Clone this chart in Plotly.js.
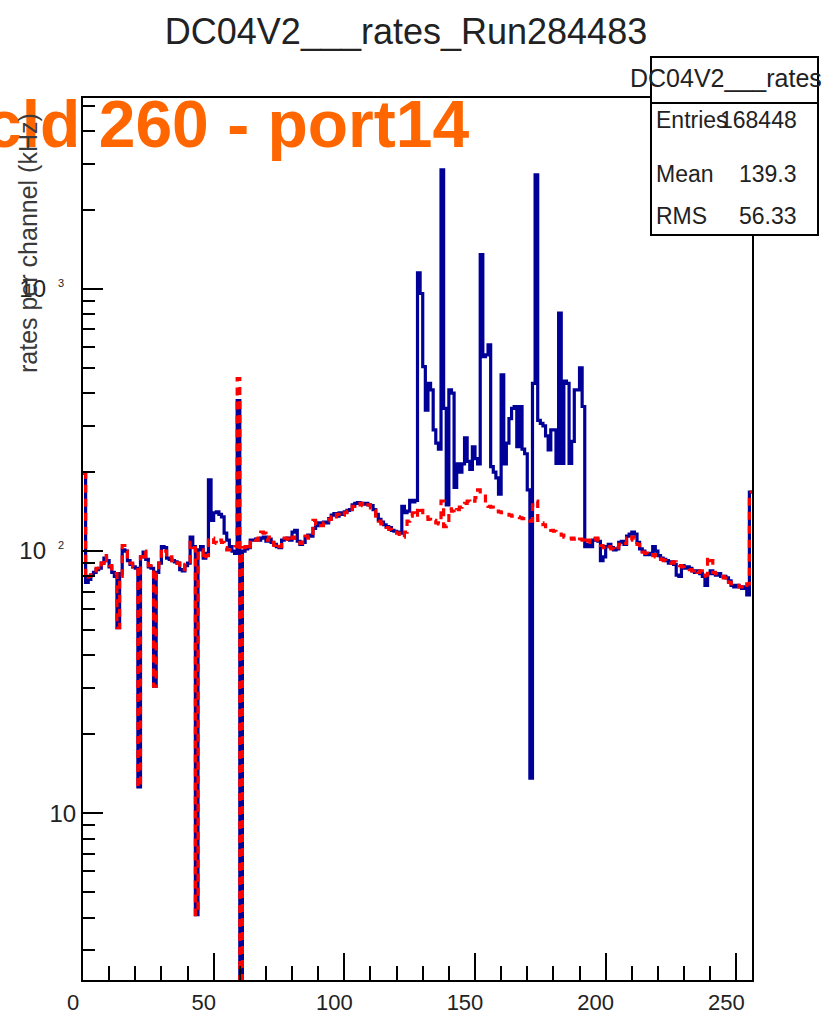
<!DOCTYPE html>
<html><head><meta charset="utf-8">
<script src="https://cdn.plot.ly/plotly-3.0.1.min.js"></script>
<style>html,body{margin:0;padding:0;background:#fff}#chart{width:828px;height:1016px}</style>
</head><body><div id="chart"></div>
<script>
// ---- data (rates per channel, kHz), one value per channel bin 0..255 ----
const ratesBlue = [
 198, 76, 78, 81, 83, 85, 86, 90, 94, 92,
 87, 83, 80, 51, 82, 101, 100, 92, 89, 87,
 86, 12.6, 95, 99, 93, 87, 86, 30.5, 83, 90,
 104, 103, 94, 93, 92, 91, 90, 85, 84, 88,
 90, 113, 104, 4.1, 101, 104, 94, 98, 187, 131,
 140, 141, 138, 135, 117, 110, 104, 100, 98, 375,
 0, 100, 102, 103, 110, 110, 111, 110, 112, 113,
 109, 111, 108, 106, 104, 103, 110, 111, 112, 110,
 118, 120, 109, 106, 108, 113, 115, 114, 122, 125,
 128, 127, 129, 128, 133, 137, 139, 136, 140, 138,
 141, 143, 144, 150, 152, 153, 152, 151, 152, 150,
 149, 144, 138, 132, 129, 126, 124, 123, 120, 119,
 118, 117, 148, 140, 142, 156, 154, 156, 1150, 960,
 505, 345, 436, 412, 290, 258, 245, 2845, 350, 150,
 412, 400, 175, 215, 200, 215, 270, 220, 205, 250,
 225, 215, 1350, 552, 560, 612, 210, 200, 190, 165,
 470, 215, 258, 320, 350, 356, 250, 356, 245, 235,
 171, 13.6, 436, 2723, 315, 307, 300, 275, 243, 290,
 290, 216, 808, 216, 445, 436, 216, 262, 412, 412,
 500, 356, 104, 106, 104, 110, 111, 109, 92, 95,
 104, 106, 103, 101, 102, 108, 109, 106, 114, 116,
 118, 116, 108, 102, 100, 97, 98, 97, 104, 100,
 96, 94, 93, 92, 90, 91, 89, 81, 80, 88,
 86, 87, 86, 84, 83, 84, 82, 80, 74, 82,
 84, 82, 81, 82, 80, 80, 79, 77, 74, 73,
 74, 73, 72, 73, 68, 168
];
const ratesRed = [
 198, 78, 80, 83, 84, 86, 85, 90, 96, 92,
 88, 84, 82, 51, 80, 105, 100, 91, 90, 87,
 87, 12.6, 95, 100, 92, 88, 86, 30.5, 84, 90,
 102, 100, 94, 95, 92, 93, 90, 86, 85, 89,
 91, 108, 103, 4.1, 100, 101, 93, 96, 110, 112,
 108, 107, 110, 108, 103, 101, 101, 103, 104, 455,
 0, 103, 104, 101, 108, 111, 110, 112, 118, 117,
 110, 113, 108, 105, 107, 104, 110, 112, 111, 109,
 113, 110, 108, 107, 110, 114, 112, 115, 131, 126,
 127, 125, 128, 130, 132, 135, 133, 138, 136, 137,
 140, 142, 141, 148, 151, 150, 152, 149, 148, 150,
 146, 143, 136, 130, 127, 125, 123, 121, 120, 118,
 117, 114, 113, 118, 130, 136, 140, 135, 147, 143,
 140, 135, 132, 130, 131, 128, 127, 155, 124, 125,
 145, 142, 140, 144, 147, 150, 152, 155, 153, 155,
 160, 171, 168, 165, 150, 148, 147, 143, 142, 141,
 140, 139, 138, 137, 136, 135, 135, 134, 133, 133,
 131, 130, 150, 155, 131, 128, 126, 124, 122, 120,
 119, 117, 116, 115, 113, 113, 112, 111, 112, 110,
 111, 110, 107, 110, 108, 111, 112, 110, 105, 103,
 105, 104, 102, 101, 103, 106, 108, 107, 112, 110,
 113, 112, 106, 101, 99, 98, 97, 96, 97, 95,
 94, 93, 92, 91, 91, 90, 91, 89, 88, 87,
 86, 86, 85, 84, 85, 83, 84, 80, 81, 95,
 92, 83, 82, 81, 80, 79, 80, 76, 75, 74,
 74, 73, 73, 72, 75, 168
];
const xTickVals = [0, 50, 100, 150, 200, 250];
const yTickVals = [10, 100, 1000];
const yTickText = ["10", "10\u2002<sup><span style='font-size:11px'>2</span></sup>\u2002", "10\u2002<sup><span style='font-size:11px'>3</span></sup>\u2002"];
const yMinorVals = [3,4,5,6,7,8,9,20,30,40,50,60,70,80,90,200,300,400,500,600,700,800,900,2000,3000,4000,5000];
const chartTitle = "DC04V2___rates_Run284483";
const yTitle = "rates per channel (kHz)";
const overlayLabel = "cld 260 - port14";
const statsTitle = "DC04V2___rates";
const statsNames = ["Entries", "Mean", "RMS"];
const statsValues = ["168448", "139.3", "56.33"];

// ---- geometry ----
const W = 828, H = 1016, L = 83, R = 76, T = 98, B = 36;
const pw = W - L - R, ph = H - T - B;
const px = x => (x - L) / pw;
const py = y => (H - B - y) / ph;
const yLogMin = 0.364, yLogMax = 3.728;
const FONT = "Liberation Sans, Arial, Helvetica, sans-serif";

function stepTrace(vals, style) {
  const floor = Math.pow(10, yLogMin) * 0.3; // empty bins drawn to the bottom like ROOT
  const x = vals.map((_, i) => i).concat([vals.length]);
  const y = vals.map(v => Math.max(v, floor)).concat([Math.max(vals[vals.length - 1], floor)]);
  return Object.assign({x, y, type: 'scatter', mode: 'lines', hoverinfo: 'skip', showlegend: false}, style);
}

const traces = [
  stepTrace(ratesBlue, {line: {shape: 'hv', color: '#000099', width: 3.2}}),
  stepTrace(ratesRed, {line: {shape: 'hv', color: '#ff0000', width: 3.2, dash: '8px,6px'}})
];

const annotations = [
  {text: overlayLabel, xref: 'paper', yref: 'paper', x: px(-17), y: py(124), xanchor: 'left', yanchor: 'middle',
   showarrow: false, font: {family: FONT, size: 66, color: '#ff6600', weight: 'bold'}},
  {text: yTitle, xref: 'paper', yref: 'paper', x: px(28), y: py(243), xanchor: 'center', yanchor: 'middle',
   textangle: -90, showarrow: false, font: {family: FONT, size: 25, color: '#3a3a3a'}},
  {text: statsTitle, xref: 'paper', yref: 'paper', x: px(824), y: py(78), xanchor: 'right', yanchor: 'middle',
   showarrow: false, font: {family: FONT, size: 25, color: '#222'}}
];
const statRows = [120, 174, 216];
statsNames.forEach((n, i) => {
  annotations.push({text: n, xref: 'paper', yref: 'paper', x: px(654), y: py(statRows[i]), xanchor: 'left', yanchor: 'middle',
    showarrow: false, font: {family: FONT, size: 23, color: '#222'}});
  annotations.push({text: statsValues[i], xref: 'paper', yref: 'paper', x: px(799), y: py(statRows[i]), xanchor: 'right', yanchor: 'middle',
    showarrow: false, font: {family: FONT, size: 23, color: '#222'}});
});

const shapes = [
  {type: 'rect', xref: 'paper', yref: 'paper', x0: px(651), x1: px(818), y0: py(235), y1: py(57),
   line: {color: '#000', width: 2}, fillcolor: '#fff', layer: 'above'},
  {type: 'line', xref: 'paper', yref: 'paper', x0: px(651), x1: px(818), y0: py(103), y1: py(103),
   line: {color: '#000', width: 2}, layer: 'above'}
];

const layout = {
  width: W, height: H,
  margin: {l: L, r: R, t: T, b: B, pad: 0},
  paper_bgcolor: '#fff', plot_bgcolor: '#fff',
  font: {family: FONT, color: '#222'},
  title: {text: chartTitle, xref: 'container', yref: 'container', x: 406 / W, xanchor: 'center',
          y: 1 - 31 / H, yanchor: 'middle', font: {family: FONT, size: 36, color: '#222'}},
  xaxis: {range: [0, 256], showline: true, mirror: true, linecolor: '#000', linewidth: 2,
          showgrid: false, zeroline: false, tickmode: 'array', tickvals: xTickVals,
          ticks: 'inside', ticklen: 27, tickwidth: 2, tickcolor: '#000',
          minor: {tickmode: 'linear', tick0: 0, dtick: 10, ticks: 'inside', ticklen: 14, tickwidth: 2, tickcolor: '#000', showgrid: false},
          tickfont: {family: FONT, size: 22, color: '#222'}, ticklabelshift: -10, ticklabelstandoff: 2},
  yaxis: {type: 'log', range: [yLogMin, yLogMax], showline: true, mirror: true, linecolor: '#000', linewidth: 2,
          showgrid: false, zeroline: false, tickmode: 'array', tickvals: yTickVals, ticktext: yTickText,
          ticks: 'inside', ticklen: 20, tickwidth: 2, tickcolor: '#000',
          minor: {tickmode: 'array', tickvals: yMinorVals, ticks: 'inside', ticklen: 12, tickwidth: 2, tickcolor: '#000', showgrid: false},
          tickfont: {family: FONT, size: 24, color: '#222'}},
  annotations, shapes
};

Plotly.newPlot('chart', traces, layout, {staticPlot: true, displayModeBar: false});
</script>
</body></html>
